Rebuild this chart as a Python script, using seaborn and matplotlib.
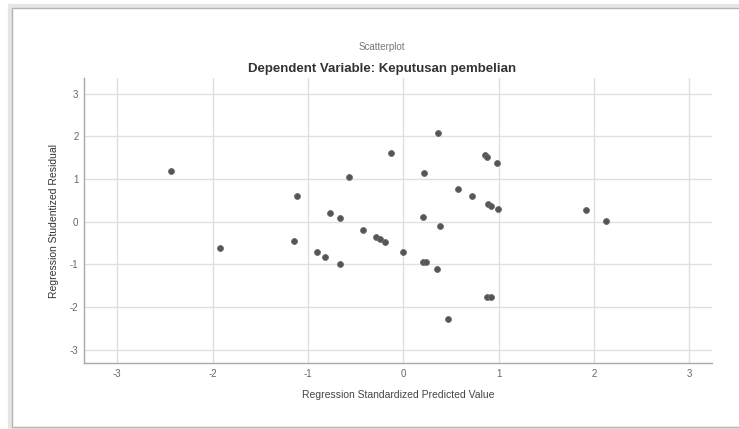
import pandas as pd
import matplotlib.pyplot as plt
import seaborn as sns
from matplotlib.patches import Rectangle

# Values (ZPRED vs SRESID)
predicted = [-2.44, -1.92, -1.12, -1.15, -0.77, -0.665, -0.91, -0.82, -0.665,
             -0.57, -0.42, -0.29, -0.24, -0.19, -0.13, 0.00, 0.21, 0.22,
             0.21, 0.24, 0.36, 0.39, 0.35, 0.47, 0.577, 0.718, 0.857, 0.875,
             0.985, 0.89, 0.92, 0.99, 0.875, 0.92, 1.92, 2.13]
residual = [1.19, -0.62, 0.61, -0.44, 0.21, 0.09, -0.70, -0.82, -0.98,
            1.06, -0.19, -0.35, -0.41, -0.48, 1.62, -0.70, 0.12, 1.15,
            -0.94, -0.94, 2.09, -0.09, -1.11, -2.29, 0.76, 0.61, 1.56, 1.52,
            1.38, 0.41, 0.37, 0.29, -1.77, -1.77, 0.27, 0.02]
tick_values = [-3, -2, -1, 0, 1, 2, 3]

df = pd.DataFrame({"pred": predicted, "resid": residual})

sns.set_style("white")
plt.rcParams['font.family'] = ['Liberation Sans', 'DejaVu Sans']

fig = plt.figure(figsize=(7.39, 4.29), dpi=100)

# outer panel frame like the SPSS output viewer (with a soft shadow)
fig.patches.append(Rectangle((10 / 739, 0.0), 1.0, 1 - 6 / 429,
                             transform=fig.transFigure, fill=False,
                             edgecolor="#e6e6e6", linewidth=3))
fig.patches.append(Rectangle((12 / 739, 0.004), 1.0, 1 - 8 / 429 - 0.004,
                             transform=fig.transFigure, fill=False,
                             edgecolor="#b4b4b4", linewidth=1.0))

ax = fig.add_axes([84 / 739, 66 / 429, 628 / 739, 285 / 429])
sns.scatterplot(data=df, x="pred", y="resid", ax=ax, color="#555555",
                s=18, edgecolor="#6a6a6a", linewidth=0.6, zorder=3)

ax.set_xlim(-3.35, 3.24)
ax.set_ylim(-3.31, 3.37)
ax.set_xticks(tick_values)
ax.set_yticks(tick_values)
ax.set_xticklabels([str(t) for t in tick_values])
ax.set_yticklabels([str(t) for t in tick_values])
ax.grid(True, color="#e0e0e0", linewidth=1.0)
ax.set_axisbelow(True)

for side in ["top", "right"]:
    ax.spines[side].set_visible(False)
for side in ["left", "bottom"]:
    ax.spines[side].set_color("#a8a8a8")
    ax.spines[side].set_linewidth(1.0)
ax.tick_params(axis="both", colors="#b0b0b0", labelcolor="#666666",
               labelsize=7, length=2, width=0.8, direction="out", pad=2)

ax.set_xlabel("Regression Standardized Predicted Value", fontsize=7.5,
              color="#444444", labelpad=8)
ax.set_ylabel("Regression Studentized Residual", fontsize=7.5,
              color="#333333", labelpad=8)

fig.text(382 / 739, 1 - 47 / 429, "Scatterplot", ha="center", va="center",
         fontsize=7, color="#777777")
fig.text(382 / 739, 1 - 69 / 429, "Dependent Variable: Keputusan pembelian",
         ha="center", va="center", fontsize=9.5, fontweight="bold",
         color="#333333")

fig.savefig("out.png", dpi=100)
